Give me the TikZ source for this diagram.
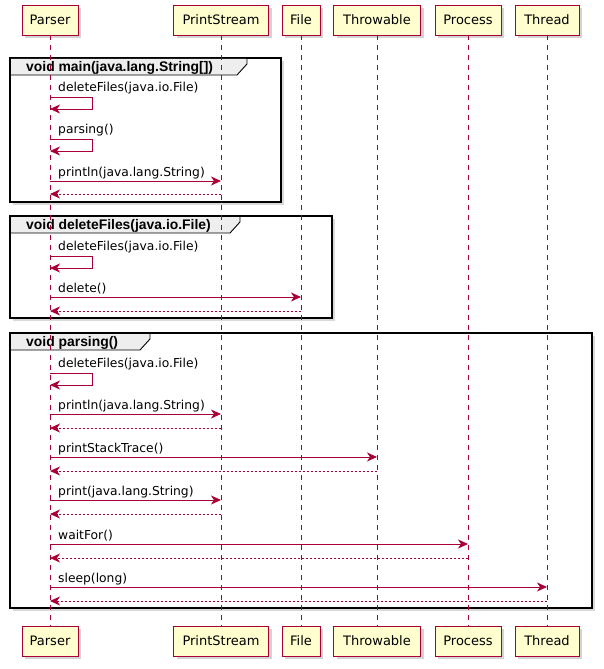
\documentclass[tikz,border=0pt]{standalone}
\usepackage{fontspec}
\setmainfont{DejaVu Sans}
\newfontfamily\tabfont{Liberation Sans}
\usetikzlibrary{arrows.meta, shadows, calc}
\definecolor{umlred}{HTML}{A80036}
\definecolor{umlfill}{HTML}{FEFECE}
\definecolor{umlgray}{HTML}{EEEEEE}

\begin{document}
\begin{tikzpicture}[x=1pt, y=-1pt,
actor/.style={rectangle, draw=umlred, fill=umlfill, line width=0.9pt, minimum height=30pt, inner sep=0pt, font=\fontsize{13}{15}\selectfont, drop shadow={shadow xshift=3pt, shadow yshift=-3pt, opacity=0.35}},
lifeline/.style={draw=umlred, line width=0.8pt, dash pattern=on 5pt off 5pt},
frame/.style={draw=black, line width=1.8pt, fill=white, drop shadow={shadow xshift=3pt, shadow yshift=-3pt, opacity=0.3}},
tab/.style={draw=black, line width=0.9pt},
tabtext/.style={anchor=base west, inner sep=0pt, font=\tabfont\bfseries\fontsize{13.9}{16}\selectfont},
call/.style={draw=umlred, line width=0.9pt, -{Stealth[length=10pt, width=9pt, inset=3pt]}},
reply/.style={call, dash pattern=on 2pt off 2pt},
msg/.style={anchor=base west, inner sep=0pt, font=\fontsize{12.3}{14}\selectfont} ]
\useasboundingbox (0,0) rectangle (603,669);

% frames
\draw[frame] (10,58) rectangle (281,202);
\fill[umlgray] (11,59) -- (247,59) -- (247,64) -- (237,75) -- (11,75) -- cycle;
\draw[tab] (247,58) -- (247,64) -- (237,75) -- (10,75);
\node [tabtext] at (26,71) {void main(java.lang.String[])};

\draw[frame] (10,216) rectangle (332,318);
\fill[umlgray] (11,217) -- (240,217) -- (240,222) -- (230,233) -- (11,233) -- cycle;
\draw[tab] (240,216) -- (240,222) -- (230,233) -- (10,233);
\node [tabtext] at (26,229) {void deleteFiles(java.io.File)};

\draw[frame] (10,333) rectangle (592,608);
\fill[umlgray] (11,334) -- (150,334) -- (150,339) -- (140,350) -- (11,350) -- cycle;
\draw[tab] (150,333) -- (150,339) -- (140,350) -- (10,350);
\node [tabtext] at (26,346) {void parsing()};

% participants
\node (parser) [actor, minimum width=56pt] at (50,20) {Parser};
\node (stream) [actor, minimum width=95pt] at (221,20) {PrintStream};
\node (file) [actor, minimum width=38pt] at (301,20) {File};
\node (throwable) [actor, minimum width=87pt] at (377,20) {Throwable};
\node (process) [actor, minimum width=66pt] at (468,20) {Process};
\node (thread) [actor, minimum width=64pt] at (547,20) {Thread};

\node (parserB) [actor, minimum width=56pt] at (50,641) {Parser};
\node (streamB) [actor, minimum width=95pt] at (221,641) {PrintStream};
\node (fileB) [actor, minimum width=38pt] at (301,641) {File};
\node (throwableB) [actor, minimum width=87pt] at (377,641) {Throwable};
\node (processB) [actor, minimum width=66pt] at (468,641) {Process};
\node (threadB) [actor, minimum width=64pt] at (547,641) {Thread};

\draw[lifeline] (parser) -- (parserB);
\draw[lifeline] (stream) -- (streamB);
\draw[lifeline] (file) -- (fileB);
\draw[lifeline] (throwable) -- (throwableB);
\draw[lifeline] (process) -- (processB);
\draw[lifeline] (thread) -- (threadB);

% message rows
\coordinate (r1) at (0,97);
\coordinate (r2) at (0,139);
\coordinate (r3) at (0,181);
\coordinate (r4) at (0,194);
\coordinate (r5) at (0,256);
\coordinate (r6) at (0,297);
\coordinate (r7) at (0,311);
\coordinate (r8) at (0,373);
\coordinate (r9) at (0,414);
\coordinate (r10) at (0,428);
\coordinate (r11) at (0,457);
\coordinate (r12) at (0,471);
\coordinate (r13) at (0,500);
\coordinate (r14) at (0,514);
\coordinate (r15) at (0,544);
\coordinate (r16) at (0,558);
\coordinate (r17) at (0,587);
\coordinate (r18) at (0,601);

% main
\node [msg] at ($(parser |- r1)+(8,-6)$) {deleteFiles(java.io.File)};
\draw[call] (parser |- r1) -- ++(42,0) -- ++(0,12) -- ++(-42,0);
\node [msg] at ($(parser |- r2)+(8,-6)$) {parsing()};
\draw[call] (parser |- r2) -- ++(42,0) -- ++(0,12) -- ++(-42,0);
\node [msg] at ($(parser |- r3)+(8,-5)$) {println(java.lang.String)};
\draw[call] (parser |- r3) -- (stream |- r3);
\draw[reply] (stream |- r4) -- (parser |- r4);

% deleteFiles
\node [msg] at ($(parser |- r5)+(8,-6)$) {deleteFiles(java.io.File)};
\draw[call] (parser |- r5) -- ++(42,0) -- ++(0,12) -- ++(-42,0);
\node [msg] at ($(parser |- r6)+(8,-5)$) {delete()};
\draw[call] (parser |- r6) -- (file |- r6);
\draw[reply] (file |- r7) -- (parser |- r7);

% parsing
\node [msg] at ($(parser |- r8)+(8,-6)$) {deleteFiles(java.io.File)};
\draw[call] (parser |- r8) -- ++(42,0) -- ++(0,12) -- ++(-42,0);
\node [msg] at ($(parser |- r9)+(8,-5)$) {println(java.lang.String)};
\draw[call] (parser |- r9) -- (stream |- r9);
\draw[reply] (stream |- r10) -- (parser |- r10);
\node [msg] at ($(parser |- r11)+(8,-5)$) {printStackTrace()};
\draw[call] (parser |- r11) -- (throwable |- r11);
\draw[reply] (throwable |- r12) -- (parser |- r12);
\node [msg] at ($(parser |- r13)+(8,-5)$) {print(java.lang.String)};
\draw[call] (parser |- r13) -- (stream |- r13);
\draw[reply] (stream |- r14) -- (parser |- r14);
\node [msg] at ($(parser |- r15)+(8,-5)$) {waitFor()};
\draw[call] (parser |- r15) -- (process |- r15);
\draw[reply] (process |- r16) -- (parser |- r16);
\node [msg] at ($(parser |- r17)+(8,-5)$) {sleep(long)};
\draw[call] (parser |- r17) -- (thread |- r17);
\draw[reply] (thread |- r18) -- (parser |- r18);

\end{tikzpicture}
\end{document}
